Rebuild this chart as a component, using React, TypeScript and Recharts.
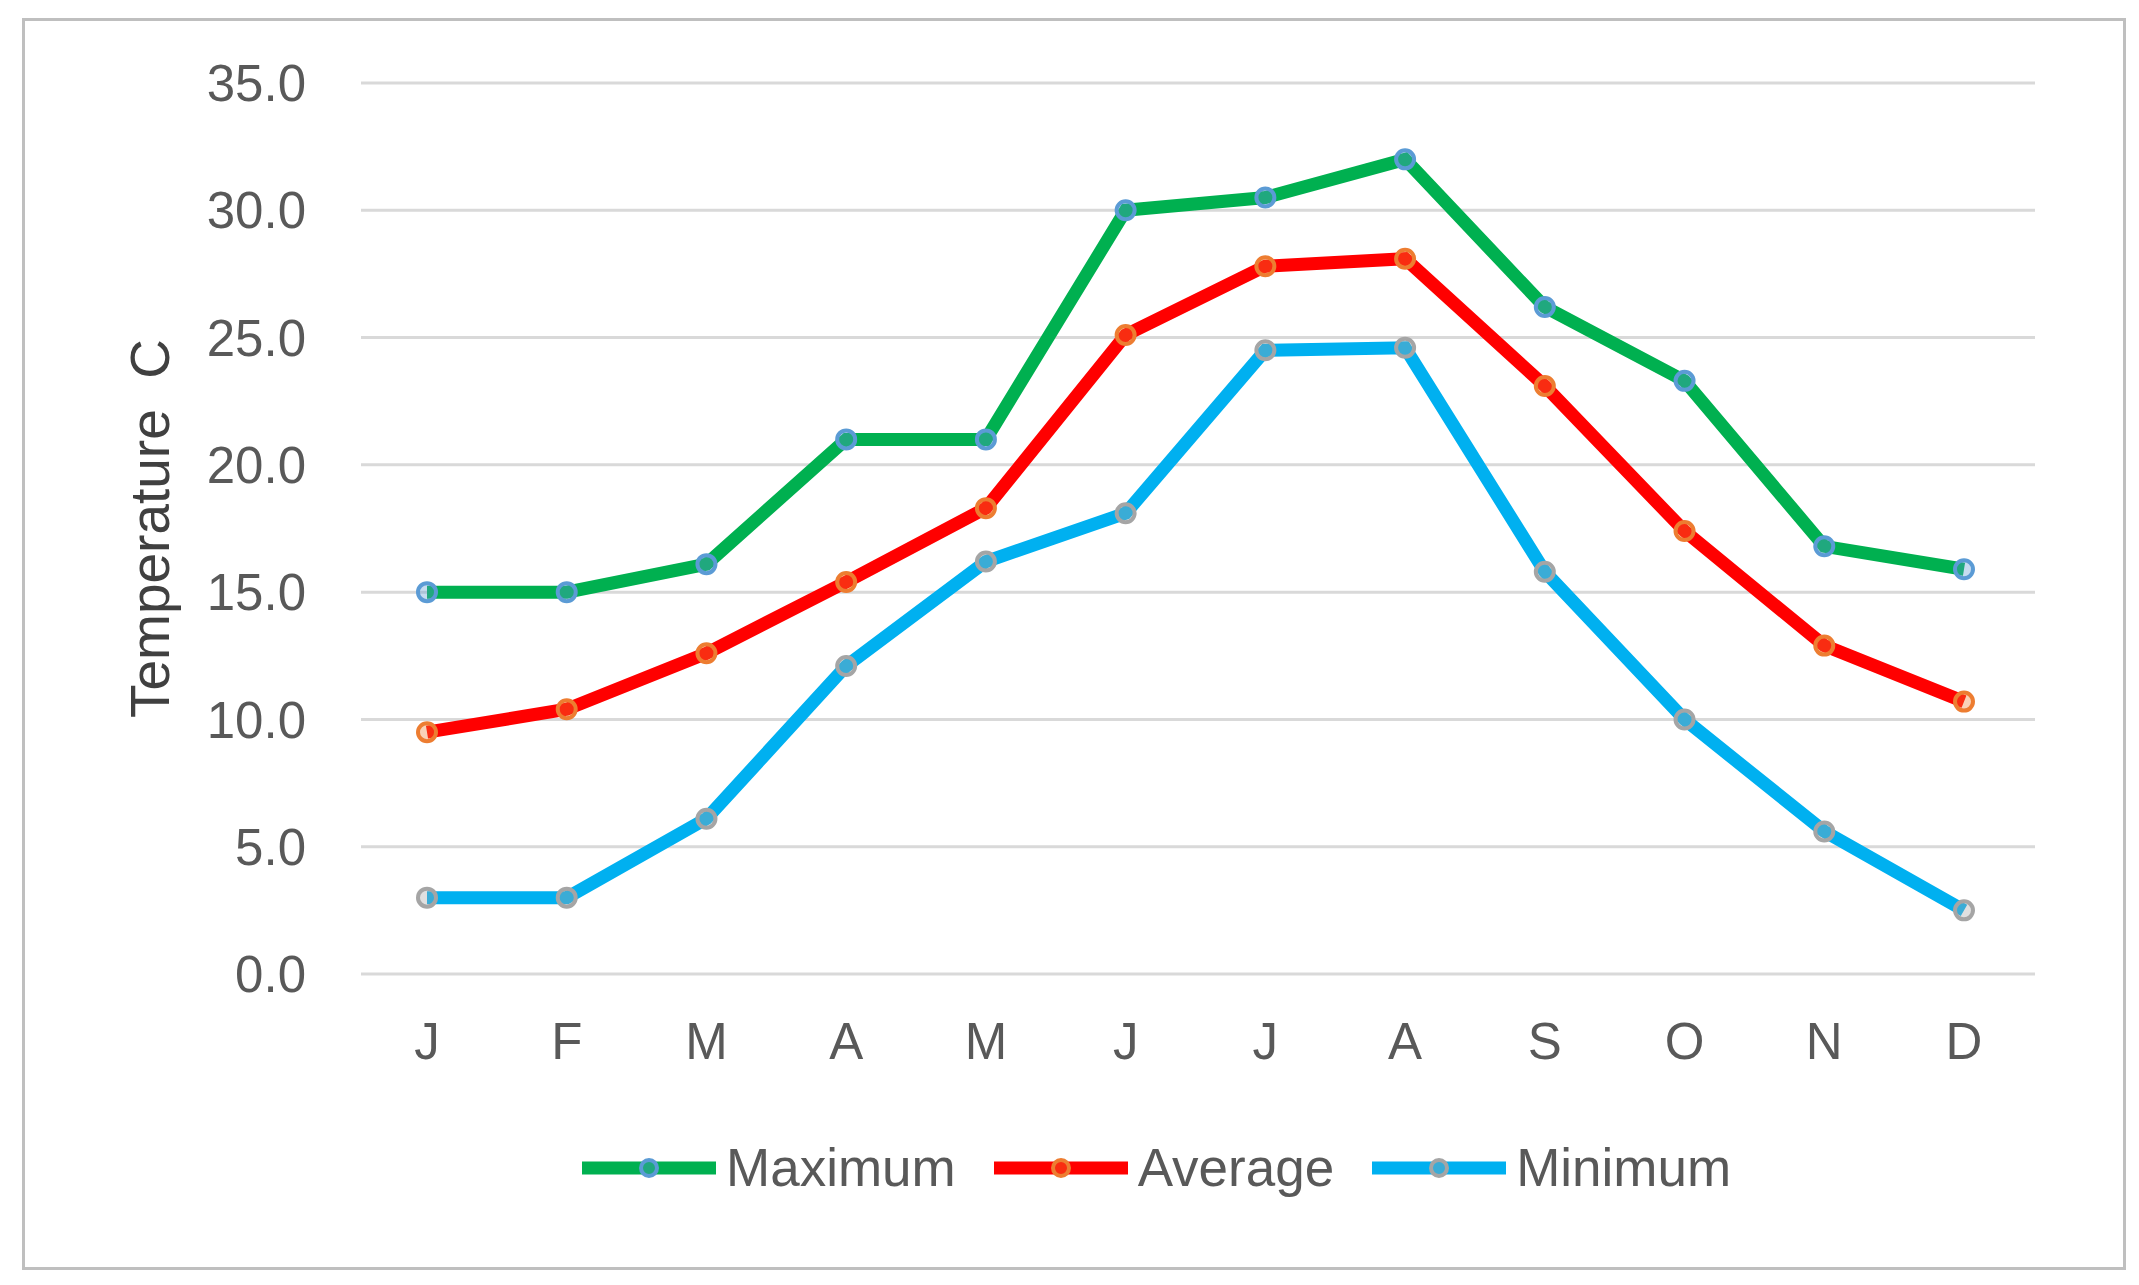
import React from 'react';
import { LineChart, Line, XAxis, YAxis, CartesianGrid } from 'recharts';

const months = ['J', 'F', 'M', 'A', 'M', 'J', 'J', 'A', 'S', 'O', 'N', 'D'];
const maximum = [15.0, 15.0, 16.1, 21.0, 21.0, 30.0, 30.5, 32.0, 26.2, 23.3, 16.8, 15.9];
const average = [9.5, 10.4, 12.6, 15.4, 18.3, 25.1, 27.8, 28.1, 23.1, 17.4, 12.9, 10.7];
const minimum = [3.0, 3.0, 6.1, 12.1, 16.2, 18.1, 24.5, 24.6, 15.8, 10.0, 5.6, 2.5];
const yTicks = [0, 5, 10, 15, 20, 25, 30, 35];

const series = [
  { key: 'Maximum', color: '#00b050', marker: '#5b9bd5' },
  { key: 'Average', color: '#ff0000', marker: '#ed7d31' },
  { key: 'Minimum', color: '#00b0f0', marker: '#a5a5a5' },
];

const data = months.map((m, i) => ({
  month: m,
  Maximum: maximum[i],
  Average: average[i],
  Minimum: minimum[i],
}));

const FONT = "'Liberation Sans', Arial, sans-serif";

const ChartLegend = () => (
  <div
    style={{
      position: 'absolute',
      left: 582,
      top: 1137,
      display: 'flex',
      alignItems: 'center',
      fontFamily: FONT,
      fontSize: 53,
      color: '#595959',
      whiteSpace: 'nowrap',
    }}
  >
    {series.map((s) => (
      <div key={s.key} style={{ display: 'flex', alignItems: 'center', marginRight: 38 }}>
        <svg width={134} height={30} style={{ marginRight: 10 }}>
          <line x1={0} y1={15} x2={134} y2={15} stroke={s.color} strokeWidth={13} />
          <circle cx={67} cy={15} r={8} fill={s.marker} fillOpacity={0.35} stroke={s.marker} strokeWidth={4} />
        </svg>
        <span>{s.key}</span>
      </div>
    ))}
  </div>
);

const AxisTitle = (props: any) => {
  const vb = props.viewBox || {};
  const x = vb.x + 150;
  const y = vb.y + vb.height / 2;
  return (
    <text
      x={x}
      y={y}
      transform={`rotate(-90, ${x}, ${y})`}
      textAnchor="middle"
      dominantBaseline="central"
      fontFamily={FONT}
      fontSize={55}
      fill="#404040"
      style={{ whiteSpace: 'pre' }}
    >
      {'Temperature  C'}
    </text>
  );
};

export default function App() {
  return (
    <div style={{ position: 'absolute', left: 0, top: 0, width: 2139, height: 1285, background: '#fff' }}>
      <div
        style={{
          position: 'absolute',
          left: 22,
          top: 18,
          width: 2098,
          height: 1246,
          border: '3px solid #bfbfbf',
        }}
      />
      <div style={{ position: 'absolute', left: 0, top: 0 }}>
        <LineChart
          width={2139}
          height={1285}
          data={data}
          margin={{ top: 83, right: 104, bottom: 281, left: 0 }}
        >
          <CartesianGrid vertical={false} stroke="#d9d9d9" strokeWidth={3} />
          <XAxis
            dataKey="month"
            height={30}
            padding={{ left: 66, right: 71 }}
            axisLine={false}
            tickLine={false}
            tickSize={0}
            tickMargin={49}
            interval={0}
            tick={{ fill: '#595959', fontSize: 51, fontFamily: FONT }}
          />
          <YAxis
            width={361}
            domain={[0, 35]}
            ticks={yTicks}
            axisLine={false}
            tickLine={false}
            tickSize={0}
            tickMargin={55}
            tickFormatter={(v: number) => v.toFixed(1)}
            tick={{ fill: '#595959', fontSize: 51, fontFamily: FONT }}
            label={<AxisTitle />}
          />
          {series.map((s) => (
            <Line
              key={s.key}
              dataKey={s.key}
              type="linear"
              stroke={s.color}
              strokeWidth={13}
              dot={{ r: 9, fill: s.marker, fillOpacity: 0.35, stroke: s.marker, strokeWidth: 4 }}
              activeDot={false}
              isAnimationActive={false}
            />
          ))}
        </LineChart>
      </div>
      <ChartLegend />
    </div>
  );
}
